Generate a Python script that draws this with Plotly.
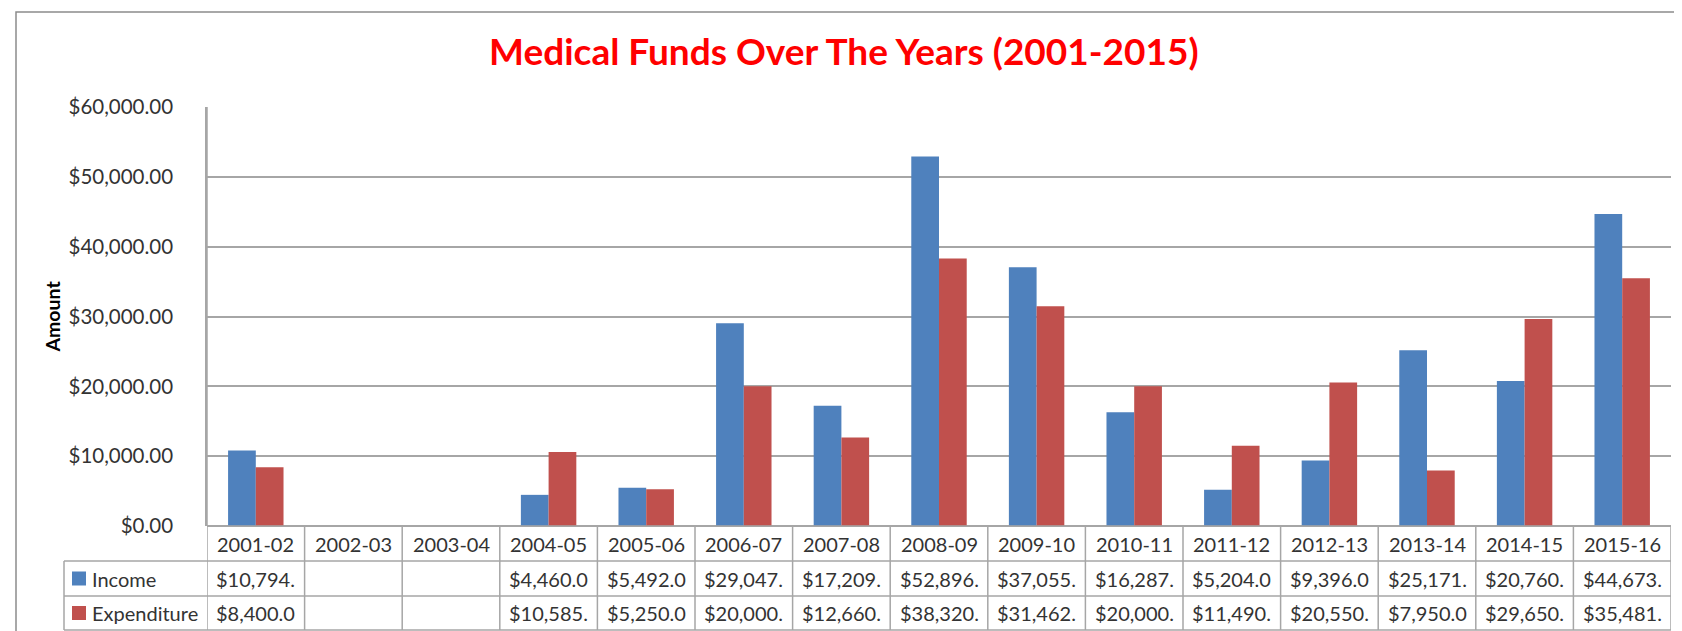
import plotly.graph_objects as go

# ---- data ----
years = ["2001-02", "2002-03", "2003-04", "2004-05", "2005-06", "2006-07", "2007-08",
         "2008-09", "2009-10", "2010-11", "2011-12", "2012-13", "2013-14", "2014-15", "2015-16"]
income = [10794, None, None, 4460, 5492, 29047, 17209, 52896, 37055, 16287,
          5204, 9396, 25171, 20760, 44673]
expenditure = [8400, None, None, 10585, 5250, 20000, 12660, 38320, 31462, 20000,
               11490, 20550, 7950, 29650, 35481]
series_names = ["Income", "Expenditure"]
series_colors = ["#4F81BD", "#C0504D"]
title_text = "Medical Funds Over The Years (2001-2015)"
y_title = "Amount"

# ---- layout geometry (pixels) ----
W, H = 1682, 631
PL, PR, PT, PB = 199, 1663, 99, 518
row_lines = [553, 588, 622]
legend_left = 56
FONT = "Lato"
TXT = "#333333"
GRID = "#A6A6A6"


def px_x(p):
    return (p - PL) / (PR - PL)


def px_y(p):
    return (PB - p) / (PB - PT)


def cell(v):
    if v is None:
        return ""
    return f"${v:,.2f}"[:8]


fig = go.Figure()
for name, vals, col in zip(series_names, [income, expenditure], series_colors):
    fig.add_trace(go.Bar(x=years, y=vals, name=name, marker_color=col,
                         marker_line_width=0, showlegend=False))

shapes = []
annotations = []

# table horizontal lines
shapes.append(dict(type="line", xref="paper", yref="paper", x0=0, x1=1,
                   y0=px_y(PB), y1=px_y(PB), line=dict(color=GRID, width=1.5)))
for ry in row_lines:
    shapes.append(dict(type="line", xref="paper", yref="paper", x0=px_x(legend_left), x1=1,
                       y0=px_y(ry), y1=px_y(ry), line=dict(color=GRID, width=1.5)))
# table vertical lines
for i in range(len(years) + 1):
    shapes.append(dict(type="line", xref="x", yref="paper", x0=i - 0.5, x1=i - 0.5,
                       y0=px_y(PB) if i > 0 else 1, y1=px_y(row_lines[-1]),
                       line=dict(color=GRID, width=1.5)))
shapes.append(dict(type="line", xref="paper", yref="paper", x0=px_x(legend_left), x1=px_x(legend_left),
                   y0=px_y(row_lines[0]), y1=px_y(row_lines[-1]), line=dict(color=GRID, width=1.5)))
# outer chart border
shapes.append(dict(type="rect", xref="paper", yref="paper", x0=px_x(8), x1=px_x(1675),
                   y0=px_y(660), y1=px_y(4), line=dict(color="#8C8C8C", width=1.5),
                   fillcolor="rgba(0,0,0,0)", layer="below"))

# header row
hdr_y = px_y((PB + row_lines[0]) / 2)
for yr in years:
    annotations.append(dict(x=yr, y=hdr_y, xref="x", yref="paper", text=yr, showarrow=False,
                            font=dict(family=FONT, size=20, color=TXT), xanchor="center", yanchor="middle"))
# data rows
row_centers = [(row_lines[0] + row_lines[1]) / 2, (row_lines[1] + row_lines[2]) / 2]
for name, vals, col, rc in zip(series_names, [income, expenditure], series_colors, row_centers):
    ry = px_y(rc)
    shapes.append(dict(type="rect", xref="paper", yref="paper", x0=px_x(64), x1=px_x(78),
                       y0=px_y(rc + 7), y1=px_y(rc - 7), fillcolor=col, line=dict(width=0)))
    annotations.append(dict(x=px_x(82), y=ry, xref="paper", yref="paper", text=name, showarrow=False,
                            font=dict(family=FONT, size=20, color=TXT), xanchor="left", yanchor="middle"))
    for yr, v in zip(years, vals):
        annotations.append(dict(x=yr, y=ry, xref="x", yref="paper", text=cell(v), showarrow=False,
                                font=dict(family=FONT, size=20, color=TXT), xanchor="center", yanchor="middle"))

# title and y-axis title
annotations.append(dict(x=px_x(836), y=px_y(43), xref="paper", yref="paper", text=f"<b>{title_text}</b>",
                        showarrow=False, font=dict(family=FONT, size=37, color="#FF0000"),
                        xanchor="center", yanchor="middle"))
annotations.append(dict(x=px_x(44), y=px_y((PT + PB) / 2), xref="paper", yref="paper", text=f"<b>{y_title}</b>",
                        showarrow=False, textangle=-90, font=dict(family=FONT, size=19.5, color="#000000"),
                        xanchor="center", yanchor="middle"))

fig.update_layout(
    width=W, height=H,
    margin=dict(l=PL, r=W - PR, t=PT, b=H - PB),
    paper_bgcolor="white", plot_bgcolor="white",
    barmode="group", bargap=0.432, bargroupgap=0,
    shapes=shapes, annotations=annotations,
    xaxis=dict(type="category", range=[-0.5, len(years) - 0.5], showticklabels=False,
               showgrid=False, zeroline=False, showline=False, fixedrange=True),
    yaxis=dict(range=[0, 60000], dtick=10000, tickformat="$,.2f", showgrid=True,
               gridcolor=GRID, gridwidth=1.5, zeroline=True, zerolinecolor=GRID, zerolinewidth=1.5,
               showline=True, linecolor=GRID, linewidth=1.5, ticks="", ticklabelstandoff=28,
               tickfont=dict(family=FONT, size=20.5, color=TXT)),
    font=dict(family=FONT),
)

fig.write_html("out.html")
